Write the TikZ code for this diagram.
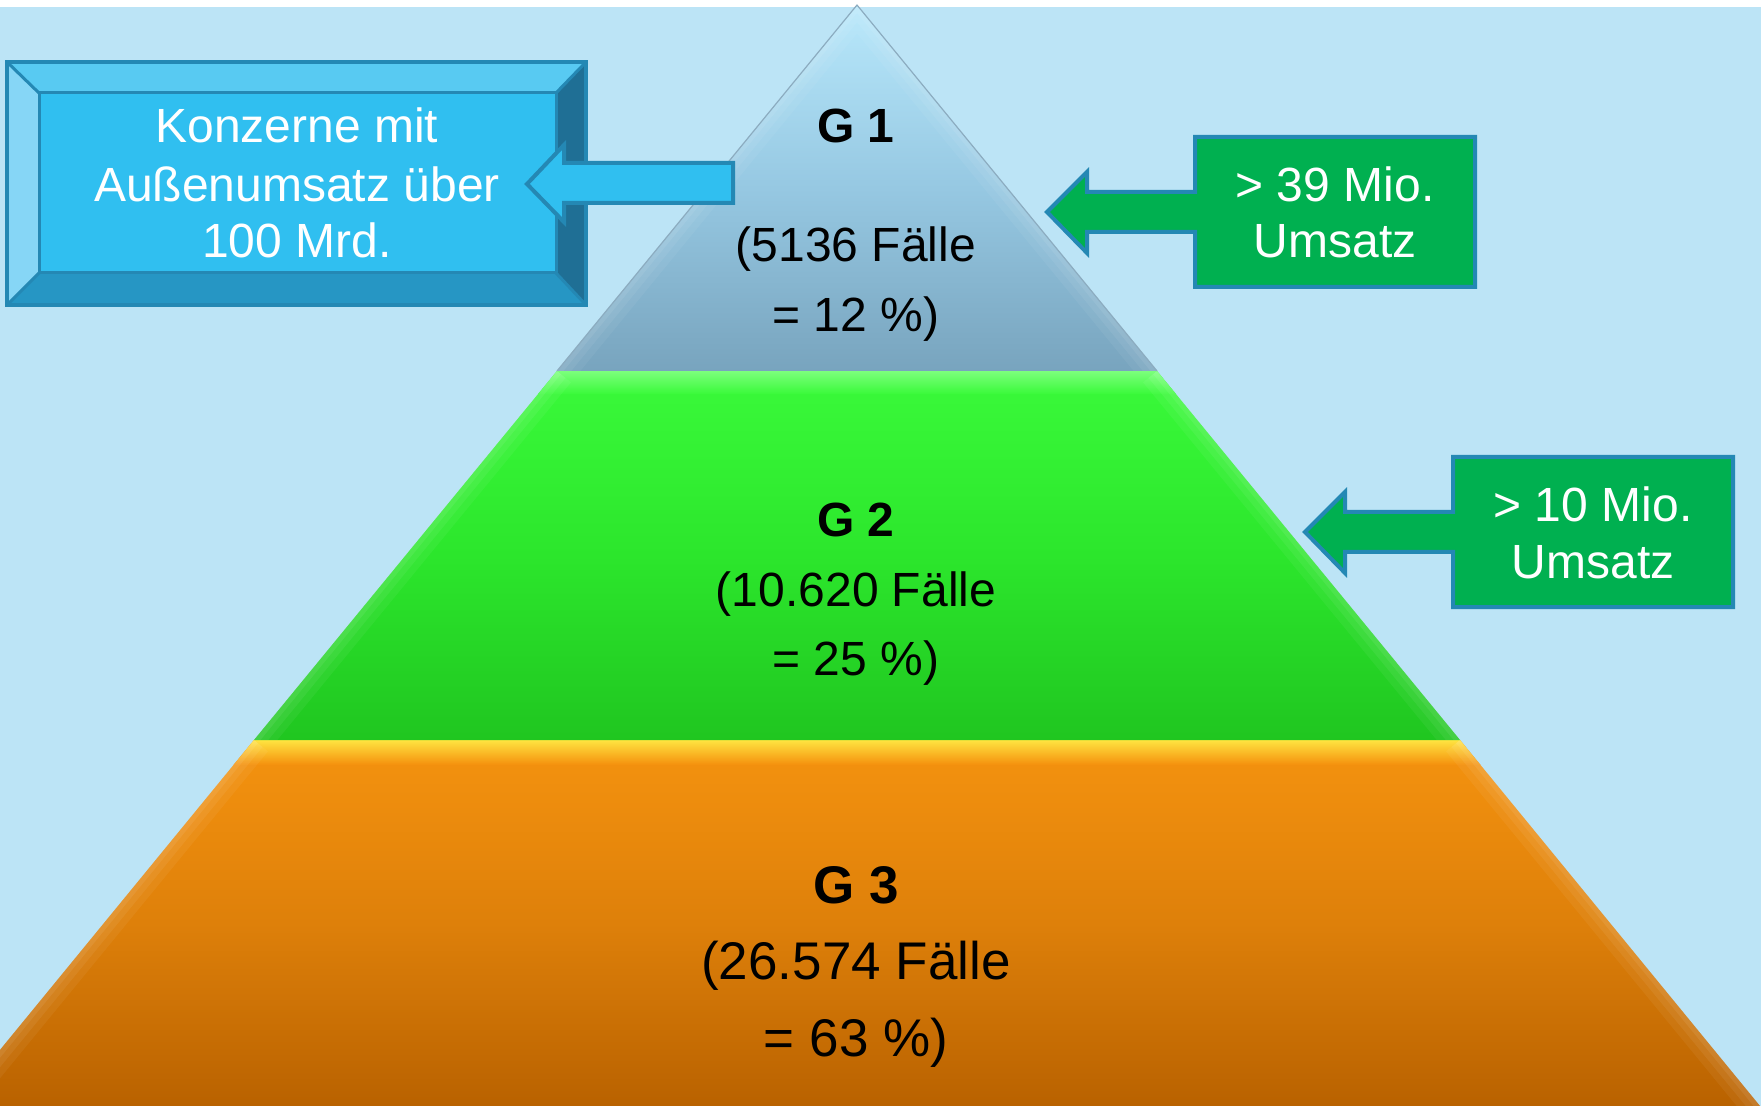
\documentclass[tikz,border=0pt]{standalone}
\usepackage{fontspec}
\setmainfont{Liberation Sans}
\definecolor{bg}{RGB}{188,228,246}
\definecolor{faceblue}{RGB}{48,191,240}
\definecolor{bevtop}{RGB}{88,202,242}
\definecolor{bevleft}{RGB}{134,214,246}
\definecolor{bevright}{RGB}{31,111,149}
\definecolor{bevbot}{RGB}{38,150,196}
\definecolor{edgeblue}{RGB}{36,136,180}
\definecolor{callgreen}{RGB}{0,176,80}
\definecolor{g1a}{RGB}{184,232,251}
\definecolor{g1b}{RGB}{150,200,226}
\definecolor{g1c}{RGB}{120,164,190}
\definecolor{g1edge}{RGB}{140,172,192}
\definecolor{g2h}{RGB}{124,255,124}
\definecolor{g2a}{RGB}{58,250,58}
\definecolor{g2b}{RGB}{44,230,44}
\definecolor{g2c}{RGB}{32,198,32}
\definecolor{g3y}{RGB}{255,228,64}
\definecolor{g3a}{RGB}{245,147,15}
\definecolor{g3b}{RGB}{222,128,10}
\definecolor{g3c}{RGB}{185,98,0}
\begin{document}
\begin{tikzpicture}[x=0.5pt,y=-0.5pt,
  wtext/.style={anchor=base, inner sep=0pt, text=white, font=\fontsize{24}{28}\selectfont},
  btext/.style={anchor=base, inner sep=0pt, text=black, font=\fontsize{24}{28}\selectfont},
  bbig/.style={anchor=base, inner sep=0pt, text=black, font=\fontsize{26.5}{30}\selectfont},
  glabel/.style={anchor=base, inner sep=0pt, text=black, font=\fontsize{24}{28}\selectfont\bfseries},
  glabelbig/.style={anchor=base, inner sep=0pt, text=black, font=\fontsize{26.5}{30}\selectfont\bfseries},
  sidelightA/.style={white, opacity=0.05, line width=18pt},
  sidelightB/.style={white, opacity=0.06, line width=11pt},
  sidelightC/.style={white, opacity=0.07, line width=5pt},
  bevelline/.style={draw=edgeblue, line width=1.5pt, line join=round},
  callout/.style={fill=callgreen, draw=edgeblue, line width=2pt, line join=miter}
]
\useasboundingbox (0,0) rectangle (1761,1106);
\fill[white] (0,0) rectangle (1761,1106);
\fill[bg] (0,7) rectangle (1761,1106);

% ---------- G3 band ----------
\begin{scope}
  \clip (-46,1106) -- (254,740) -- (1460,740) -- (1760,1106) -- cycle;
  \shade[top color=g3a, bottom color=g3c, middle color=g3b] (-60,740) rectangle (1780,1106);
  \shade[top color=g3y, bottom color=g3a] (-60,740) rectangle (1780,764);
  \foreach \s in {sidelightA,sidelightB,sidelightC}{
    \draw[\s] (-46,1106) -- (254,740);
    \draw[\s] (1460,740) -- (1760,1106);
  }
\end{scope}

% ---------- G2 band ----------
\begin{scope}
  \clip (254,740) -- (557,371) -- (1157,371) -- (1460,740) -- cycle;
  \shade[top color=g2a, bottom color=g2c, middle color=g2b] (240,371) rectangle (1480,740);
  \shade[top color=g2h, bottom color=g2a] (240,371) rectangle (1480,394);
  \foreach \s in {sidelightA,sidelightB,sidelightC}{
    \draw[\s] (254,740) -- (557,371);
    \draw[\s] (1157,371) -- (1460,740);
  }
\end{scope}

% ---------- G1 band ----------
\begin{scope}
  \clip (857,5) -- (1157,371) -- (557,371) -- cycle;
  \shade[top color=g1a, bottom color=g1c, middle color=g1b] (550,5) rectangle (1165,371);
  \foreach \s in {sidelightA,sidelightB,sidelightC}{
    \draw[\s] (557,371) -- (857,5) -- (1157,371);
  }
\end{scope}
\draw[g1edge, line width=0.6pt, line join=round] (557,371) -- (857,5) -- (1157,371);

% ---------- bevelled box (left) ----------
\fill[bevtop] (7,62) -- (586,62) -- (556,93) -- (39,93) -- cycle;
\fill[bevleft] (7,62) -- (39,93) -- (39,273) -- (7,305) -- cycle;
\fill[bevright] (586,62) -- (586,305) -- (556,273) -- (556,93) -- cycle;
\fill[bevbot] (7,305) -- (39,273) -- (556,273) -- (586,305) -- cycle;
\fill[faceblue] (39,93) rectangle (556,273);
\draw[bevelline] (39,93) rectangle (556,273);
\draw[bevelline] (7,62) -- (39,93) (586,62) -- (556,93) (7,305) -- (39,273) (586,305) -- (556,273);
\draw[draw=edgeblue, line width=2pt] (7,62) rectangle (586,305);

% blue arrow pointing into the box
\draw[fill=faceblue, draw=edgeblue, line width=2pt, line join=miter]
  (733,163) -- (564,163) -- (564,145) -- (527,184) -- (564,222) -- (564,203) -- (733,203) -- cycle;

% ---------- green callouts ----------
\draw[callout] (1195,137) -- (1475,137) -- (1475,287) -- (1195,287) -- (1195,232) -- (1087,232)
  -- (1087,253) -- (1047,212) -- (1087,172) -- (1087,192) -- (1195,192) -- cycle;
\draw[callout] (1453,457) -- (1733,457) -- (1733,607) -- (1453,607) -- (1453,552) -- (1345,552)
  -- (1345,573) -- (1305,532) -- (1345,492) -- (1345,512) -- (1453,512) -- cycle;

% ---------- texts ----------
\node[wtext] (k1) at (297,143) {Konzerne mit};
\node[wtext] (k2) at (297,202) {Außenumsatz über};
\node[wtext] (k3) at (297,258) {100 Mrd.};

\node[wtext] (c1a) at (1335,202) {> 39 Mio.};
\node[wtext] (c1b) at (1335,258) {Umsatz};
\node[wtext] (c2a) at (1593,522) {> 10 Mio.};
\node[wtext] (c2b) at (1593,579) {Umsatz};

\node[glabel] (g1) at (856,143) {G 1};
\node[btext] (g1n) at (856,262) {(5136 Fälle};
\node[btext] (g1p) at (856,332) {= 12 \%)};

\node[glabel] (g2) at (856,537) {G 2};
\node[btext] (g2n) at (856,606) {(10.620 Fälle};
\node[btext] (g2p) at (856,675) {= 25 \%)};

\node[glabelbig] (g3) at (856,903) {G 3};
\node[bbig] (g3n) at (856,979) {(26.574 Fälle};
\node[bbig] (g3p) at (856,1056) {= 63 \%)};
\end{tikzpicture}
\end{document}
